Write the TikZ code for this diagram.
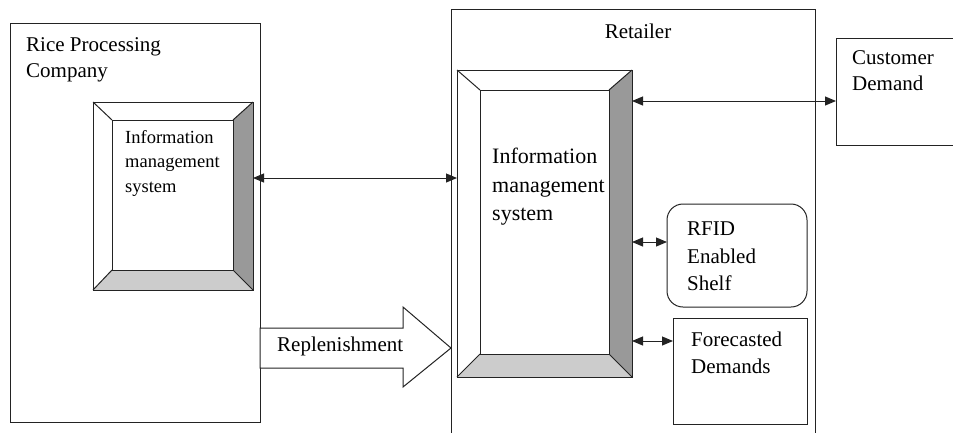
\documentclass[tikz,border=0pt]{standalone}
\usepackage{fontspec}
\setmainfont{Liberation Serif}
\usetikzlibrary{arrows.meta,positioning,calc,backgrounds}
\definecolor{linegray}{RGB}{35,35,35}
\definecolor{bevdark}{RGB}{153,153,153}
\definecolor{bevlight}{RGB}{204,204,204}

\begin{document}
\begin{tikzpicture}[
  x=1pt, y=-1pt,
  boxframe/.style={draw=linegray, line width=1pt, inner sep=0pt, outer sep=0pt},
  ims/.style={boxframe},
  imsin/.style={boxframe, fill=white},
  lbl/.style={inner sep=0pt, align=left, font=\fontsize{21}{26.5}\selectfont},
  dblarr/.style={{Triangle[length=11pt,width=9pt]}-{Triangle[length=11pt,width=9pt]},
                 line width=1pt, draw=linegray},
  blockarr/.style={draw=linegray, line width=1pt, fill=white}
]
\useasboundingbox (0,0) rectangle (953,432);
\clip (0,0) rectangle (953,432);

% outer frames (retailer and customer run past the edge)
\node[boxframe, minimum width=250pt, minimum height=399pt] (rpc) at (135,222.5) {};
\node[boxframe, minimum width=364pt, minimum height=461pt] (ret) at (633,239.5) {};
\node[boxframe, minimum width=154pt, minimum height=107pt] (cust) at (913,91.5) {};
\node[boxframe, rounded corners=16pt, minimum width=140pt, minimum height=103pt] (rfid) at (737,255.5) {};
\node[boxframe, minimum width=134pt, minimum height=106pt] (fcst) at (740,371) {};

% the two information systems, drawn as bevelled frames
\node[ims, minimum width=160pt, minimum height=188pt] (cims) at (173,196) {};
\node[imsin, minimum width=121pt, minimum height=150pt] (cims-in) at (172.5,195) {};
\node[ims, minimum width=175pt, minimum height=307pt] (rims) at (544.5,223.5) {};
\node[imsin, minimum width=129pt, minimum height=264pt] (rims-in) at (544.5,222) {};

\begin{scope}[on background layer]
\foreach \b in {cims,rims}{
  \fill[bevdark] (\b.north east) -- (\b.south east) -- (\b-in.south east) -- (\b-in.north east) -- cycle;
  \fill[bevlight] (\b.south west) -- (\b.south east) -- (\b-in.south east) -- (\b-in.south west) -- cycle;
}
\end{scope}
\foreach \b in {cims,rims}
  \foreach \c in {north west,north east,south east,south west}
    \draw[boxframe] (\b.\c) -- (\b-in.\c);

% labels
\node[lbl, below right=14pt and 16pt of rpc.north west] (rpctext) {Rice Processing\\Company};
\node[lbl, below=15pt of ret.north, xshift=5pt] (rettext) {Retailer};
\node[lbl, below right=12pt and 16pt of cust.north west] (custtext) {Customer\\Demand};
\node[lbl, font=\fontsize{21}{27.5}\selectfont, below right=18pt and 20pt of rfid.north west] (rfidtext) {RFID\\Enabled\\Shelf};
\node[lbl, below right=14pt and 18pt of fcst.north west] (fcsttext) {Forecasted\\Demands};
\node[lbl, font=\fontsize{18.5}{24.5}\selectfont, below right=10pt and 13pt of cims-in.north west] (cimstext)
  {Information\\management\\system};
\node[lbl, font=\fontsize{22}{28.5}\selectfont, below right=58pt and 12pt of rims-in.north west] (rimstext)
  {Information\\management\\system};

% links between the systems
\draw[dblarr] ([yshift=18pt]cims.east) -- ([yshift=18pt]cims.east -| rims.west);
\draw[dblarr] ([yshift=-9.5pt]cust.west -| rims.east) -- ([yshift=-9.5pt]cust.west);
\draw[dblarr] ([yshift=13.5pt]rfid.west -| rims.east) -- ([yshift=13.5pt]rfid.west);
\draw[dblarr] ([yshift=30pt]fcst.west -| rims.east) -- ([yshift=30pt]fcst.west);

% replenishment flow
\draw[blockarr] (rpc.east |- 0,328) -- (403,328) -- (403,307) -- (ret.west |- 0,348)
  -- (403,387) -- (403,368) -- (rpc.east |- 0,368) -- cycle;
\node[lbl, anchor=north west] (repl) at (277,337) {Replenishment};
\end{tikzpicture}
\end{document}
